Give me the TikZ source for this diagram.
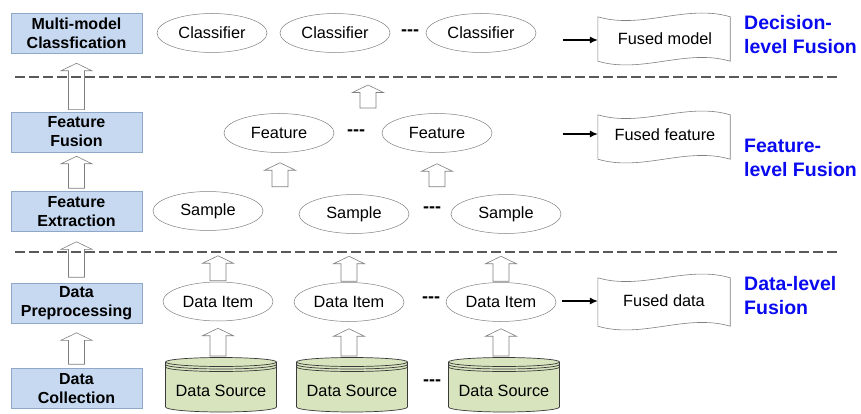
\documentclass[tikz,border=0pt]{standalone}
\usepackage{fontspec}
\setmainfont{Liberation Sans}
\usetikzlibrary{calc,shapes.geometric,arrows.meta}

\definecolor{boxblue}{HTML}{C6D9F1}
\definecolor{boxline}{HTML}{8FA8C8}
\definecolor{ellline}{HTML}{808080}
\definecolor{dsgreen}{HTML}{D7E4BD}
\definecolor{cylline}{HTML}{3A3A3A}
\definecolor{dashgray}{HTML}{595959}
\definecolor{labelblue}{HTML}{0A0AF0}

\tikzset{
 stage/.style={draw=boxline, fill=boxblue, line width=0.6pt, minimum width=131pt, minimum height=40pt, inner sep=0pt, align=center, font=\fontsize{16}{19}\selectfont\bfseries},
 oval/.style={ellipse, draw=ellline, fill=white, minimum width=110pt, minimum height=39pt, inner sep=0pt, font=\fontsize{16.3}{19}\selectfont, line width=0.5pt},
 dotsnode/.style={inner sep=0pt, font=\fontsize{18}{19}\selectfont\bfseries},
 fusedtext/.style={minimum width=132pt, minimum height=44pt, inner sep=0pt, font=\fontsize{16.3}{19}\selectfont},
 wave/.style={draw=ellline, fill=white, line width=0.6pt},
 hollow/.style={draw=ellline, fill=white, line width=0.6pt},
 sep/.style={draw=dashgray, line width=1.8pt, dash pattern=on 9.5pt off 4.5pt},
 feed/.style={-{Latex[length=8pt,width=7pt]}, line width=1.1pt},
 levellabel/.style={anchor=north west, inner sep=0pt, align=left, text=labelblue, font=\fontsize{19.5}{24}\selectfont\bfseries},
 dstext/.style={inner sep=0pt, font=\fontsize{16.3}{19}\selectfont},
 cyl/.style={draw=cylline, line width=0.7pt},
}

\newcommand\hollowup[2]{%
 \path[hollow] let \p1=#1, \p2=#2 in
  (\x1-8pt,\y1) -- (\x1-8pt,\y2-7.5pt) -- (\x1-15.5pt,\y2-7.5pt) -- (\x1,\y2)
  -- (\x1+15.5pt,\y2-7.5pt) -- (\x1+8pt,\y2-7.5pt) -- (\x1+8pt,\y1) -- cycle;}

\newcommand\fusedoutline[1]{%
 \path[wave] (#1.north west) .. controls +(44pt,-13pt) and +(-44pt,13pt) .. (#1.north east)
  -- (#1.south east) .. controls +(-44pt,13pt) and +(44pt,-13pt) .. (#1.south west) -- cycle;}

\newcommand\datasource[3]{%
 \coordinate (#1c) at (#2,391);
 \path[cyl, fill=dsgreen] ($(#1c)+(-55.5,-29)$) -- ($(#1c)+(-55.5,16)$)
   arc[start angle=180,end angle=360,x radius=55.5pt,y radius=5pt]
   -- ($(#1c)+(55.5,-29)$)
   arc[start angle=0,end angle=180,x radius=55.5pt,y radius=4.5pt] -- cycle;
 \draw[cyl] ($(#1c)+(-55.5,-29)$) arc[start angle=180,end angle=360,x radius=55.5pt,y radius=4.5pt];
 \draw[cyl] ($(#1c)+(-55.5,-26.5)$) arc[start angle=180,end angle=360,x radius=55.5pt,y radius=4.5pt];
 \draw[cyl] ($(#1c)+(-55.5,-24)$) arc[start angle=180,end angle=360,x radius=55.5pt,y radius=4.5pt];
 \coordinate (#1top) at ($(#1c)+(0,-34)$);
 \node[dstext] (#1) at (#1c) {#3};
}

\begin{document}
\begin{tikzpicture}[x=1pt,y=-1pt]
\useasboundingbox (0,0) rectangle (861,414);

% left stages
\node[stage] (mm) at (76.5,33) {Multi-model\\Classfication};
\node[stage] (ff) at (76.5,132) {Feature\\Fusion};
\node[stage] (fe) at (76.5,211.5) {Feature\\Extraction};
\node[stage] (dp) at (76.5,303.5) {Data\\Preprocessing};
\node[stage] (dc) at (76.5,388.5) {Data\\Collection};

\hollowup{($(ff.north)+(0,-2)$)}{($(mm.south)+(0,10)$)}
\hollowup{($(fe.north)+(0,-3)$)}{($(ff.south)+(0,4)$)}
\hollowup{($(dp.north)+(0,-6)$)}{($(fe.south)+(0,10)$)}
\hollowup{($(dc.north)+(0,-4)$)}{($(dp.south)+(0,9)$)}

% decision level
\node[oval] (c1) at (212,33) {Classifier};
\node[oval] (c2) at (335,33) {Classifier};
\node[oval] (c3) at (481,33) {Classifier};
\node[dotsnode] (dc1) at (410,33) {-{}-{}-};

% feature level
\node[oval] (f1) at (279,133) {Feature};
\node[oval] (f2) at (437,133) {Feature};
\node[dotsnode] (df) at (356,133) {-{}-{}-};
\node[oval] (s1) at (208,211) {Sample};
\node[oval] (s2) at (354,214) {Sample};
\node[oval] (s3) at (506,214) {Sample};
\node[dotsnode] (dsm) at (432,210) {-{}-{}-};

\coordinate (fcb) at (368,108);
\coordinate (fct) at (368,85);
\hollowup{(fcb)}{(fct)}
\hollowup{($(f1.south)+(1,34)$)}{($(f1.south)+(1,10)$)}
\hollowup{($(f2.south)+(0,34)$)}{($(f2.south)+(0,11)$)}

% data level
\node[oval] (di1) at (218,301.5) {Data Item};
\node[oval] (di2) at (349,302) {Data Item};
\node[oval] (di3) at (501,302) {Data Item};
\node[dotsnode] (ddi) at (431,300) {-{}-{}-};

\datasource{ds1}{221}{Data Source}
\datasource{ds2}{352}{Data Source}
\datasource{ds3}{504}{Data Source}
\node[dotsnode] (dds) at (432,383) {-{}-{}-};

\foreach \i in {1,2,3}{
  \hollowup{($(di\i.south |- ds\i top)+(0,-1)$)}{($(di\i.south)+(0,7)$)}
  \coordinate (up\i) at ($(di\i.north)+(0,-26)$);
  \hollowup{($(di\i.north)+(0,-1)$)}{(up\i)}
}

% fused outputs
\node[fusedtext] (fm) at (664,39) {};
\fusedoutline{fm}
\node[fusedtext] (fmt) at (665,39) {Fused model};
\node[fusedtext] (ffe) at (664,137) {};
\fusedoutline{ffe}
\node[fusedtext] (fft) at (665,135) {Fused feature};
\node[fusedtext, minimum height=48pt] (fd) at (664,302) {};
\fusedoutline{fd}
\node[fusedtext] (fdt) at (664,301) {Fused data};

\coordinate (fmin) at (563,40);
\coordinate (ffin) at (563,134);
\draw[feed] (fmin) -- (fmin -| fm.west);
\draw[feed] (ffin) -- (ffin -| ffe.west);
\draw[feed] ($(di3.east)+(6,-1)$) -- ($(di3.east -| fd.west)+(0,-1)$);

% level labels
\node[levellabel] (ld) at (744,15) {Decision-\\level Fusion};
\node[levellabel] (lf) at (744,139) {Feature-\\level Fusion};
\node[levellabel] (la) at (744,276) {Data-level\\Fusion};

% separators
\coordinate (s1a) at (15,77);
\coordinate (s1b) at (838,77);
\coordinate (s2a) at (15,252);
\coordinate (s2b) at (838,252);
\draw[sep] (s1a) -- (s1b);
\draw[sep] (s2a) -- (s2b);
\end{tikzpicture}
\end{document}
